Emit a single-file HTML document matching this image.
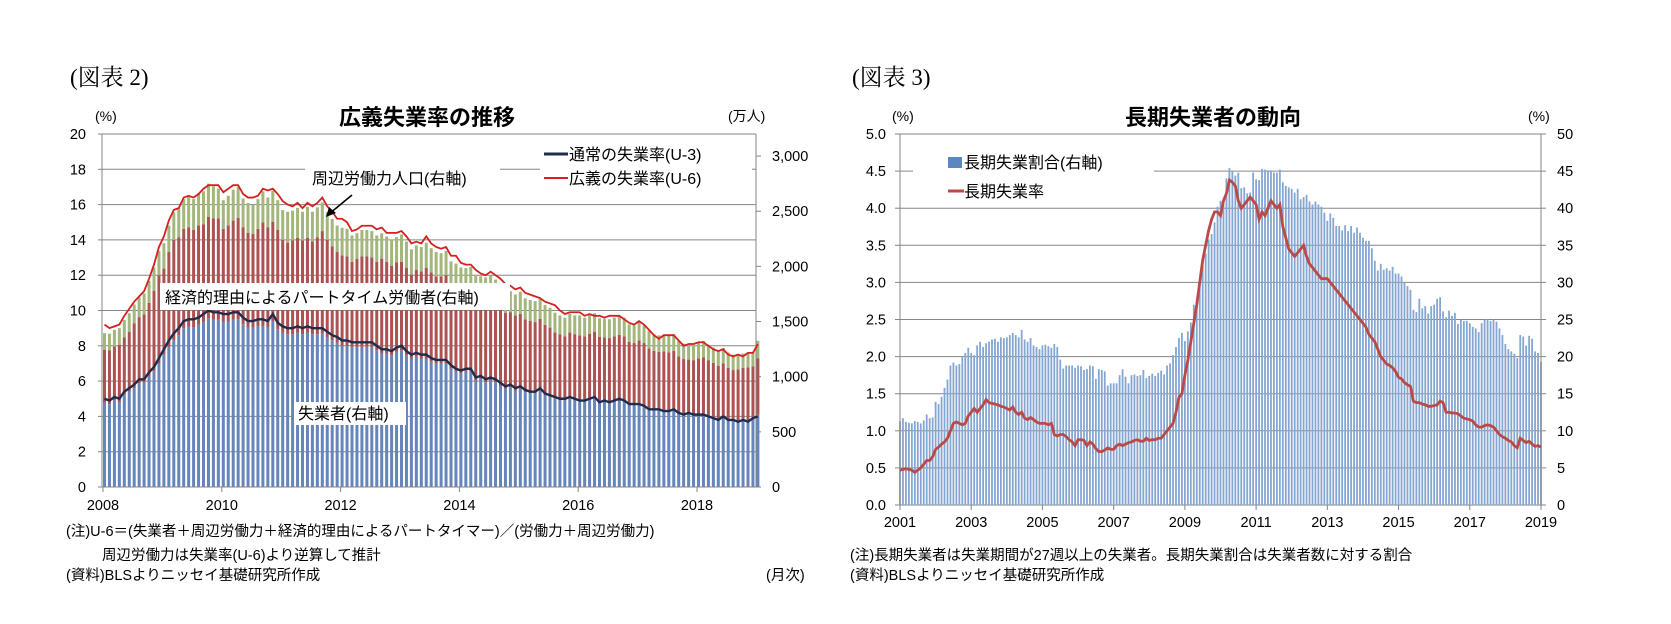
<!DOCTYPE html>
<html><head><meta charset="utf-8">
<style>
html,body{margin:0;padding:0;background:#fff;}
svg{display:block;font-family:"Liberation Sans","Noto Sans CJK JP",sans-serif;}
.serif{font-family:"Liberation Serif","Noto Serif CJK SC",serif;}
</style></head>
<body>
<svg id="svg" width="1671" height="624" viewBox="0 0 1671 624" xmlns="http://www.w3.org/2000/svg">
<text x="70" y="85" font-size="23" class="serif">(図表 2)</text>
<text x="852" y="85" font-size="23" class="serif">(図表 3)</text>
<text x="427" y="125" font-size="22" font-weight="bold" text-anchor="middle">広義失業率の推移</text>
<text x="1213" y="125" font-size="22" font-weight="bold" text-anchor="middle">長期失業者の動向</text>
<text x="95" y="121" font-size="14">(%)</text>
<text x="728" y="121" font-size="14">(万人)</text>
<text x="892" y="121" font-size="14">(%)</text>
<text x="1528" y="121" font-size="14">(%)</text>
<g id="c1"></g>
<g id="c2"></g>
<text x="66" y="536" font-size="14.5">(注)U-6＝(失業者＋周辺労働力＋経済的理由によるパートタイマー)／(労働力＋周辺労働力)</text>
<text x="102" y="560" font-size="14.5">周辺労働力は失業率(U-6)より逆算して推計</text>
<text x="66" y="580" font-size="14.5">(資料)BLSよりニッセイ基礎研究所作成</text>
<text x="766" y="580" font-size="14.5">(月次)</text>
<text x="850" y="560" font-size="14.5">(注)長期失業者は失業期間が27週以上の失業者。長期失業割合は失業者数に対する割合</text>
<text x="850" y="580" font-size="14.5">(資料)BLSよりニッセイ基礎研究所作成</text>
</svg>
<script>
// ---------- Chart 1 data (monthly, Jan 2008 - Jan 2019) ----------
const c1XTicks = [2008,2010,2012,2014,2016,2018];
const c1LeftTicks = [0,2,4,6,8,10,12,14,16,18,20];
const c1RightTicks = [0,500,1000,1500,2000,2500,3000];
const c1RightLabels = ["0","500","1,000","1,500","2,000","2,500","3,000"];
const unemployed = [
765,750,785,770,835,865,895,940,945,1000,1050,1120,
1200,1270,1330,1375,1440,1455,1450,1470,1500,1530,1515,1515,
1500,1500,1515,1520,1475,1445,1445,1460,1460,1445,1505,1430,
1400,1385,1385,1400,1385,1400,1385,1385,1390,1360,1330,1310,
1280,1280,1270,1270,1270,1270,1270,1240,1210,1210,1195,1225,
1240,1195,1165,1180,1165,1165,1135,1120,1120,1120,1075,1045,
1030,1045,1045,965,980,950,965,950,920,890,905,875,
890,860,845,845,875,830,815,800,785,785,800,785,
775,775,790,805,760,775,760,775,790,775,745,745,
750,735,705,705,705,690,690,705,675,660,675,660,
665,665,650,635,620,650,620,620,605,620,605,635,
655];
const partTime = [
480,490,490,520,520,540,590,600,620,670,730,800,
780,860,910,890,900,900,880,900,880,920,920,920,
840,870,900,920,880,860,850,880,940,910,900,900,
840,830,850,860,850,860,840,880,930,880,850,820,
820,810,770,800,820,820,810,800,860,830,810,810,
800,790,760,790,790,820,810,790,790,800,760,770,
730,720,740,750,730,750,740,720,710,690,680,680,
680,660,660,650,650,640,630,600,600,580,600,600,
600,590,600,600,600,580,590,590,590,590,570,560,
580,570,550,530,520,540,530,530,510,500,480,490,
500,510,500,490,480,470,460,440,460,460,480,460,
510];
const marginal = [
150,150,150,150,160,170,170,180,190,200,210,220,
230,240,250,260,270,280,280,290,300,300,290,270,
260,270,280,280,260,270,260,270,280,270,280,270,
270,280,270,270,260,280,270,270,260,250,250,240,
250,250,240,230,240,240,240,240,230,230,240,230,
250,240,230,220,220,230,220,220,210,220,210,210,
230,220,210,210,200,200,210,210,200,190,190,190,
200,190,190,190,180,180,180,180,170,170,170,170,
180,170,170,170,170,170,170,170,170,170,160,160,
170,160,160,150,150,150,150,150,140,140,140,140,
150,150,140,140,140,140,140,140,130,130,130,130,
160];
const u3 = [
5.0,4.9,5.1,5.0,5.4,5.6,5.8,6.1,6.1,6.5,6.8,7.3,
7.8,8.3,8.7,9.0,9.4,9.5,9.5,9.6,9.8,10.0,9.9,9.9,
9.8,9.8,9.9,9.9,9.6,9.4,9.4,9.5,9.5,9.4,9.8,9.3,
9.1,9.0,9.0,9.1,9.0,9.1,9.0,9.0,9.0,8.8,8.6,8.5,
8.3,8.3,8.2,8.2,8.2,8.2,8.2,8.0,7.8,7.8,7.7,7.9,
8.0,7.7,7.5,7.6,7.5,7.5,7.3,7.2,7.2,7.2,6.9,6.7,
6.6,6.7,6.7,6.2,6.3,6.1,6.2,6.1,5.9,5.7,5.8,5.6,
5.7,5.5,5.4,5.4,5.6,5.3,5.2,5.1,5.0,5.0,5.1,5.0,
4.9,4.9,5.0,5.1,4.8,4.9,4.8,4.9,5.0,4.9,4.7,4.7,
4.7,4.6,4.4,4.4,4.4,4.3,4.3,4.4,4.2,4.1,4.2,4.1,
4.1,4.1,4.0,3.9,3.8,4.0,3.8,3.8,3.7,3.8,3.7,3.9,
4.0];
const u6 = [
9.2,9.0,9.1,9.2,9.7,10.1,10.5,10.8,11.1,11.8,12.6,13.6,
14.2,15.1,15.7,15.8,16.4,16.5,16.4,16.6,16.9,17.1,17.1,17.1,
16.7,16.9,17.1,17.1,16.6,16.4,16.4,16.5,16.9,16.8,16.9,16.6,
16.2,16.0,15.9,16.1,15.8,16.1,15.9,16.1,16.4,15.9,15.6,15.2,
15.2,15.0,14.5,14.6,14.8,14.8,14.8,14.6,14.7,14.4,14.4,14.4,
14.5,14.2,13.8,13.9,13.8,14.2,13.8,13.6,13.5,13.6,13.1,13.1,
12.7,12.6,12.6,12.3,12.1,12.0,12.2,12.0,11.8,11.5,11.4,11.2,
11.3,11.0,10.9,10.8,10.7,10.5,10.4,10.3,10.0,9.8,9.9,9.9,
9.9,9.7,9.8,9.7,9.7,9.6,9.7,9.7,9.7,9.5,9.3,9.2,
9.4,9.2,8.9,8.6,8.4,8.6,8.6,8.6,8.3,8.0,8.1,8.1,
8.2,8.2,8.0,7.8,7.7,7.8,7.5,7.4,7.5,7.4,7.6,7.6,
8.1];

// ---------- Chart 2 data (monthly, Jan 2001 - Jan 2019) ----------
const c2XTicks = [2001,2003,2005,2007,2009,2011,2013,2015,2017,2019];
const c2LeftTicks = [0,0.5,1,1.5,2,2.5,3,3.5,4,4.5,5];
const c2RightTicks = [0,5,10,15,20,25,30,35,40,45,50];
const ltShare = [
11.3,11.7,11.2,11.1,11.0,11.3,11.2,11.0,11.4,12.2,11.7,11.8,
13.9,13.6,14.6,15.8,16.9,18.8,19.2,18.8,19.0,20.0,20.5,21.2,
20.5,20.2,21.5,22.0,21.3,21.8,22.0,22.3,22.4,22.0,22.6,22.5,
22.6,22.9,23.2,22.9,22.6,23.6,22.3,22.0,22.5,21.5,21.3,21.0,
21.5,21.6,21.4,21.2,21.7,21.3,19.6,18.4,18.8,18.8,18.8,18.5,
18.8,18.7,18.2,18.3,18.8,18.7,17.0,18.3,18.2,18.0,16.1,16.4,
16.4,16.4,17.5,18.3,17.3,16.4,17.5,17.6,17.4,17.5,18.2,17.1,
17.4,17.7,17.4,17.8,18.1,17.6,18.8,19.1,20.2,21.3,22.5,23.2,
22.1,23.4,24.6,27.0,27.5,30.2,32.4,33.9,35.8,36.5,38.1,40.2,
41.0,41.3,44.0,45.4,45.0,44.4,44.8,42.7,42.8,42.0,42.1,44.8,
43.9,43.8,45.3,45.2,45.1,45.1,44.8,44.8,45.2,43.5,43.0,42.8,
42.6,42.1,42.6,41.2,41.5,41.8,40.9,40.5,40.9,40.5,40.2,39.4,
38.3,39.3,38.7,37.6,37.6,37.0,37.7,36.9,37.6,36.7,37.4,36.7,
36.0,35.6,35.6,34.6,32.9,31.6,32.5,31.7,31.9,31.6,32.1,31.2,
31.2,30.8,30.0,29.5,29.0,26.3,26.0,27.8,26.5,26.8,25.8,26.8,
27.0,27.8,28.0,26.1,25.3,26.2,25.5,25.9,24.4,25.0,24.8,24.8,
24.5,24.0,23.8,23.3,24.5,25.0,25.0,24.8,25.0,24.7,23.8,22.9,
21.7,21.0,20.7,20.4,19.8,22.9,22.7,21.5,22.8,22.4,20.7,20.5,
19.3];
const ltRate = [
0.47,0.48,0.49,0.48,0.47,0.44,0.47,0.5,0.55,0.6,0.6,0.65,
0.75,0.78,0.82,0.85,0.9,1.0,1.1,1.12,1.1,1.08,1.1,1.2,
1.25,1.3,1.25,1.3,1.35,1.42,1.38,1.37,1.36,1.35,1.33,1.32,
1.3,1.28,1.32,1.25,1.22,1.25,1.17,1.15,1.18,1.15,1.12,1.1,
1.1,1.1,1.08,1.1,0.95,0.93,0.95,0.95,0.92,0.88,0.85,0.8,
0.88,0.88,0.87,0.8,0.85,0.82,0.76,0.72,0.72,0.74,0.77,0.75,
0.75,0.8,0.82,0.8,0.82,0.84,0.85,0.87,0.88,0.86,0.86,0.9,
0.87,0.88,0.88,0.9,0.9,0.95,1.0,1.05,1.1,1.25,1.45,1.5,
1.75,1.95,2.2,2.45,2.7,3.0,3.3,3.5,3.7,3.85,3.95,3.95,
3.9,4.1,4.2,4.38,4.35,4.3,4.1,4.0,4.05,4.1,4.15,4.1,
4.05,3.85,3.95,3.9,4.0,4.1,4.05,4.0,4.05,3.75,3.6,3.45,
3.4,3.35,3.4,3.45,3.5,3.35,3.25,3.2,3.15,3.1,3.05,3.05,
3.05,3.0,2.95,2.9,2.85,2.8,2.75,2.7,2.65,2.6,2.55,2.5,
2.45,2.4,2.3,2.25,2.2,2.1,2.0,1.95,1.9,1.88,1.85,1.8,
1.72,1.7,1.65,1.62,1.6,1.4,1.38,1.38,1.36,1.35,1.33,1.33,
1.34,1.35,1.4,1.38,1.25,1.25,1.24,1.24,1.23,1.2,1.17,1.16,
1.15,1.13,1.08,1.05,1.05,1.07,1.08,1.07,1.05,1.0,0.95,0.92,
0.9,0.87,0.85,0.8,0.77,0.9,0.87,0.84,0.86,0.82,0.79,0.8,
0.78];

const NS='http://www.w3.org/2000/svg';
function mk(parent,tag,attrs,txt){const e=document.createElementNS(NS,tag);for(const k in attrs)e.setAttribute(k,attrs[k]);if(txt!==undefined)e.textContent=txt;parent.appendChild(e);return e;}

// ---------- Chart 1 ----------
(function(){
  const g=document.getElementById('c1');
  const L=102,R=756,T=134,B=487;
  const x0=103,step=4.95;
  const xI=i=>x0+i*step;
  const xYear=y=>x0+(y-2008)*12*step;
  const yL=v=>B-(v/20)*(B-T);
  const yR=v=>B-(v/3200)*(B-T);
  mk(g,'rect',{x:L,y:T,width:R-L,height:B-T,fill:'#fff'});
  c1LeftTicks.forEach(v=>{
    const gl=mk(g,'line',{x1:L,x2:R,y1:yL(v),y2:yL(v),stroke:'#868686','stroke-width':1});
    
    
    const t=mk(g,'text',{x:L-16,y:yL(v)+5,'font-size':14.5,'text-anchor':'end'},String(v));
    
    
    mk(g,'line',{x1:L-4,x2:L,y1:yL(v),y2:yL(v),stroke:'#868686'});
  });
  c1RightTicks.forEach((v,k)=>{
    mk(g,'line',{x1:R,x2:R+5,y1:yR(v),y2:yR(v),stroke:'#868686'});
    const t=mk(g,'text',{x:R+16,y:yR(v)+5,'font-size':14.5},c1RightLabels[k]);
    
    
  });
  const bw=3.0;
  unemployed.forEach((u,i)=>{
    const cx=xI(i)+1.5;
    const p=partTime[i], m=marginal[i];
    const b1=mk(g,'rect',{x:cx-bw/2,y:yR(u),width:bw,height:yR(0)-yR(u),fill:'#6585bb'});
    
    
    const b2=mk(g,'rect',{x:cx-bw/2,y:yR(u+p),width:bw,height:yR(u)-yR(u+p),fill:'#ad5252'});
    
    
    const b3=mk(g,'rect',{x:cx-bw/2,y:yR(u+p+m),width:bw,height:yR(u+p)-yR(u+p+m),fill:'#a3b67c'});
    
    
  });
  mk(g,'line',{x1:L,x2:L,y1:T,y2:B,stroke:'#868686'});
  mk(g,'line',{x1:R,x2:R,y1:T,y2:B,stroke:'#868686'});
  mk(g,'line',{x1:L,x2:R,y1:B,y2:B,stroke:'#868686'});
  c1XTicks.forEach(y=>{
    mk(g,'line',{x1:xYear(y),x2:xYear(y),y1:B,y2:B+5,stroke:'#868686'});
    const t=mk(g,'text',{x:xYear(y),y:B+23,'font-size':14.5,'text-anchor':'middle'},String(y));
    
    
  });
  const p6=u6.map((v,i)=>xI(i)+1.5+','+yL(v)).join(' ');
  const l6=mk(g,'polyline',{points:p6,fill:'none',stroke:'#d42020','stroke-width':1.8});
  
  
  const p3=u3.map((v,i)=>xI(i)+1.5+','+yL(v)).join(' ');
  const l3=mk(g,'polyline',{points:p3,fill:'none',stroke:'#1f2d4d','stroke-width':2.4});
  
  
  // legend
  mk(g,'rect',{x:540,y:140,width:212,height:52,fill:'#fff'});
  mk(g,'line',{x1:544,x2:568,y1:154,y2:154,stroke:'#1f2d4d','stroke-width':3});
  mk(g,'text',{x:569,y:160,'font-size':16},'通常の失業率(U-3)');
  mk(g,'line',{x1:544,x2:568,y1:178,y2:178,stroke:'#d42020','stroke-width':2});
  mk(g,'text',{x:569,y:184,'font-size':16},'広義の失業率(U-6)');
  // annotations
  mk(g,'rect',{x:305,y:166,width:195,height:24,fill:'#fff'});
  mk(g,'text',{x:312,y:184,'font-size':16},'周辺労働力人口(右軸)');
  mk(g,'line',{x1:352,x2:329,y1:195,y2:214,stroke:'#000','stroke-width':1.5});
  mk(g,'path',{d:'M326,217 L329,207 L336,213 Z',fill:'#000'});
  mk(g,'rect',{x:160,y:283,width:350,height:27,fill:'#fff'});
  mk(g,'text',{x:165,y:303,'font-size':16},'経済的理由によるパートタイム労働者(右軸)');
  mk(g,'rect',{x:294,y:402,width:112,height:23,fill:'#fff'});
  mk(g,'text',{x:298,y:419,'font-size':16},'失業者(右軸)');
})();

// ---------- Chart 2 ----------
(function(){
  const g=document.getElementById('c2');
  const L=900,R=1541,T=134,B=505;
  const step=(R-L)/216;
  const xI=i=>L+i*step;
  const xYear=y=>L+(y-2001)*12*step;
  const yL=v=>B-(v/5)*(B-T);
  const yR=v=>B-(v/50)*(B-T);
  c2LeftTicks.forEach(v=>{
    const gl=mk(g,'line',{x1:L,x2:R,y1:yL(v),y2:yL(v),stroke:'#868686','stroke-width':1});
    
    
    mk(g,'line',{x1:L-5,x2:L,y1:yL(v),y2:yL(v),stroke:'#868686'});
    const t=mk(g,'text',{x:L-14,y:yL(v)+5,'font-size':14.5,'text-anchor':'end'},v.toFixed(1));
    
    
  });
  c2RightTicks.forEach(v=>{
    mk(g,'line',{x1:R,x2:R+5,y1:yR(v),y2:yR(v),stroke:'#868686'});
    const t=mk(g,'text',{x:R+16,y:yR(v)+5,'font-size':14.5},String(v));
    
    
  });
  ltShare.forEach((v,i)=>{
    const b=mk(g,'rect',{x:xI(i)-0.9,y:yR(v),width:1.8,height:yR(0)-yR(v),fill:'#86a6d2'});
    
    
  });
  mk(g,'line',{x1:L,x2:L,y1:T,y2:B,stroke:'#868686'});
  mk(g,'line',{x1:R,x2:R,y1:T,y2:B,stroke:'#868686'});
  c2XTicks.forEach(y=>{
    mk(g,'line',{x1:xYear(y),x2:xYear(y),y1:B,y2:B+5,stroke:'#868686'});
    const t=mk(g,'text',{x:xYear(y),y:B+22,'font-size':14.5,'text-anchor':'middle'},String(y));
    
    
  });
  const pts=ltRate.map((v,i)=>xI(i)+','+yL(v)).join(' ');
  const ln=mk(g,'polyline',{points:pts,fill:'none',stroke:'#b94a48','stroke-width':2.8});
  
  
  mk(g,'rect',{x:913,y:146,width:241,height:58,fill:'#fff'});
  mk(g,'rect',{x:948,y:157,width:14,height:11,fill:'#5b86c0'});
  mk(g,'text',{x:964,y:168,'font-size':16},'長期失業割合(右軸)');
  mk(g,'line',{x1:948,x2:964,y1:191,y2:191,stroke:'#b94a48','stroke-width':3});
  mk(g,'text',{x:964,y:197,'font-size':16},'長期失業率');
})();
</script>
</body></html>
